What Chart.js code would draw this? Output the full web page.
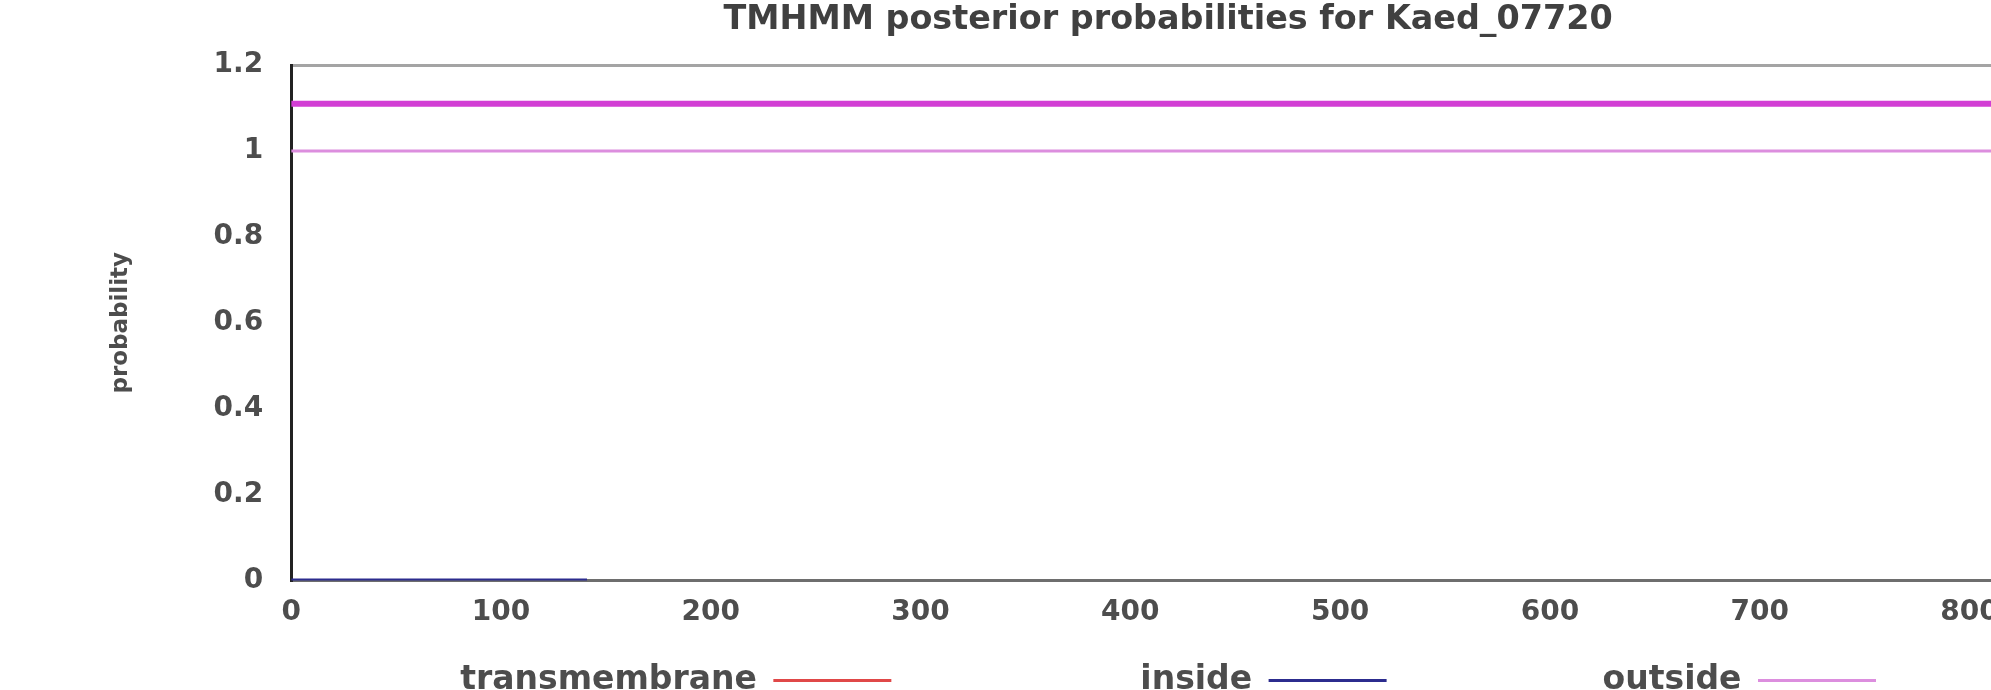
<!DOCTYPE html>
<html>
<head>
<meta charset="utf-8">
<title>TMHMM posterior probabilities for Kaed_07720</title>
<script src="https://cdn.jsdelivr.net/npm/chart.js@4.4.1/dist/chart.umd.min.js"></script>
<style>
  html, body { margin: 0; padding: 0; background: #fff; overflow: hidden; }
  #tmhmm { display: block; }
</style>
</head>
<body>
<canvas id="tmhmm" width="2045" height="690"></canvas>
<script>
// posterior probabilities along the sequence (residue position -> probability)
const seriesNames = ['transmembrane', 'inside', 'outside'];
const transmembraneX = [];
const transmembraneY = [];
const insideX = [0, 141];
const insideY = [0, 0];
const outsideX = [0, 836];
const outsideY = [1, 1];
// predicted topology bar above the curves
const topologyX = [0, 836];
const topologyY = [1.11, 1.11];

const seqLength = 836;
const xTicks = [0, 100, 200, 300, 400, 500, 600, 700, 800];
const yTicks = [0, 0.2, 0.4, 0.6, 0.8, 1, 1.2];
const yTickLabels = ['0', '0.2', '0.4', '0.6', '0.8', '1', '1.2'];

const toPoints = (xs, ys) => xs.map((x, i) => ({ x: x, y: ys[i] }));

const FONT = 'DejaVu Sans';
const TEXT = '#4d4d4d';
const legendGap = [0, 14, 12]; // en spaces in front of each legend entry

new Chart(document.getElementById('tmhmm'), {
  type: 'line',
  data: {
    datasets: [
      { label: seriesNames[0], data: toPoints(transmembraneX, transmembraneY), borderColor: '#e04848', borderWidth: 2 },
      { label: seriesNames[1], data: toPoints(insideX, insideY), borderColor: '#2c2c8e', borderWidth: 4 },
      { label: seriesNames[2], data: toPoints(outsideX, outsideY), borderColor: '#dc8ede', borderWidth: 3 },
      { label: 'topology', data: toPoints(topologyX, topologyY), borderColor: '#d23ed4', borderWidth: 6 }
    ]
  },
  options: {
    responsive: false,
    animation: false,
    devicePixelRatio: 1,
    layout: { padding: { left: 0, right: 0, top: 0, bottom: -17 } },
    elements: { point: { radius: 0 }, line: { tension: 0 } },
    scales: {
      x: {
        type: 'linear',
        min: 0,
        max: seqLength,
        afterBuildTicks: s => { s.ticks = xTicks.map(v => ({ value: v })); },
        ticks: { padding: 16, color: TEXT, maxRotation: 0, autoSkip: false, font: { family: FONT, size: 28, weight: 'bold' } },
        grid: { display: false, drawTicks: false },
        border: { color: '#6e6e6e', width: 3 }
      },
      y: {
        type: 'linear',
        min: 0,
        max: 1.2,
        afterBuildTicks: s => { s.ticks = yTicks.map(v => ({ value: v })); },
        ticks: { padding: 28, color: TEXT, font: { family: FONT, size: 28, weight: 'bold' }, callback: (v, i) => yTickLabels[i] },
        grid: {
          drawTicks: false,
          lineWidth: 3,
          color: c => (c.tick && c.tick.value === yTicks[yTicks.length - 1]) ? '#a4a4a4' : 'rgba(0,0,0,0)'
        },
        border: { color: '#222', width: 3 },
        title: {
          display: true,
          text: 'probability',
          color: TEXT,
          font: { family: FONT, size: 23, weight: 'bold' },
          padding: { top: 107, bottom: 51 }
        }
      }
    },
    plugins: {
      tooltip: { enabled: false },
      title: {
        display: true,
        text: 'TMHMM posterior probabilities for Kaed_07720',
        fullSize: false,
        color: '#404040',
        font: { family: FONT, size: 33.4, weight: 'bold' },
        padding: { top: 0, bottom: 25 }
      },
      legend: {
        position: 'bottom',
        fullSize: false,
        rtl: true,
        reverse: true,
        labels: {
          boxWidth: 118,
          boxHeight: 3,
          padding: 18,
          color: TEXT,
          font: { family: FONT, size: 33, weight: 'bold' },
          generateLabels(chart) {
            return Chart.defaults.plugins.legend.labels.generateLabels(chart)
              .filter(item => item.datasetIndex < seriesNames.length)
              .map(item => Object.assign(item, {
                text: '\u2002'.repeat(legendGap[item.datasetIndex]) + item.text,
                fillStyle: item.strokeStyle,
                lineWidth: 0
              }));
          }
        }
      }
    }
  }
});
</script>
</body>
</html>
